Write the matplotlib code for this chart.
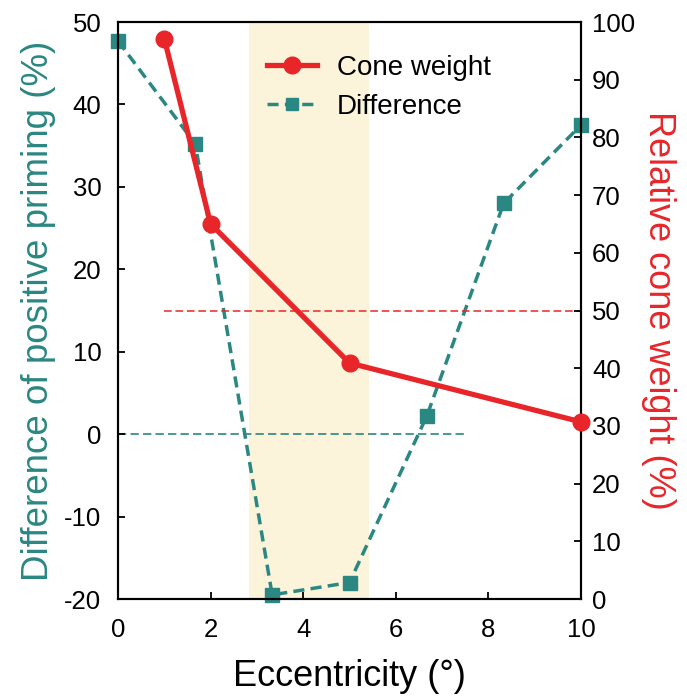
import matplotlib
matplotlib.use("Agg")
import matplotlib.pyplot as plt
from matplotlib.lines import Line2D

plt.rcParams["font.family"] = ["Liberation Sans", "DejaVu Sans"]
plt.rcParams["axes.unicode_minus"] = False

# Difference of positive priming (%) vs eccentricity
diff_x = [0, 1.67, 3.33, 5.0, 6.67, 8.33, 10.0]
diff_y = [47.7, 35.2, -19.5, -18.0, 2.2, 28.0, 37.5]

# Relative cone weight (%) vs eccentricity
cone_x = [1, 2, 5, 10]
cone_y = [97.1, 65.0, 40.9, 30.7]

# Reference levels and highlighted band
zero_x = [0, 7.5]
zero_y = [0, 0]
half_x = [1, 10]
half_y = [50, 50]
band = [2.83, 5.42]

x_ticks = [0, 2, 4, 6, 8, 10]
left_ticks = [-20, -10, 0, 10, 20, 30, 40, 50]
right_ticks = [0, 10, 20, 30, 40, 50, 60, 70, 80, 90, 100]

TEAL = "#2B8782"
RED = "#E8262A"
DIFF_DASH = (0, (3.2, 1.8))
REF_DASH = (0, (5, 2.5))

fig = plt.figure(figsize=(6.87, 6.97), dpi=100)
ax1 = fig.add_axes([0.1718, 0.1406, 0.6739, 0.8278])
ax2 = ax1.twinx()

ax1.axvspan(band[0], band[1], color="#FBF4DA", lw=0, zorder=0)
ax1.plot(zero_x, zero_y, color=TEAL, lw=1.2, ls=REF_DASH, zorder=1)
ax1.plot(diff_x, diff_y, color=TEAL, lw=2.5, ls=DIFF_DASH,
         marker="s", ms=10, mec=TEAL, mfc=TEAL, zorder=2, clip_on=False)

ax2.plot(half_x, half_y, color=RED, lw=1.1, ls=REF_DASH, zorder=1)
ax2.plot(cone_x, cone_y, color=RED, lw=3.8, marker="o", ms=12,
         zorder=3, clip_on=False)

ax1.set_xlim(0, 10)
ax1.set_ylim(-20, 50)
ax2.set_ylim(0, 100)
ax1.set_xticks(x_ticks)
ax1.set_yticks(left_ticks)
ax2.set_yticks(right_ticks)

for ax in (ax1, ax2):
    for s in ax.spines.values():
        s.set_linewidth(1.5)
    ax.tick_params(direction="in", length=5, width=1.3, labelsize=18.5)
ax1.tick_params(axis="x", pad=14)
ax1.tick_params(axis="y", pad=12)
ax2.tick_params(axis="y", pad=8)

ax1.set_xlabel("Eccentricity (°)", fontsize=26, labelpad=12)
ax1.set_ylabel("Difference of positive priming (%)", fontsize=26.5,
               color=TEAL, labelpad=6)
ax2.set_ylabel("Relative cone weight (%)", fontsize=26, color=RED,
               rotation=270, labelpad=29)

handles = [
    Line2D([], [], color=RED, lw=3.8, marker="o", ms=12),
    Line2D([], [], color=TEAL, lw=2.5, ls=DIFF_DASH, marker="s", ms=9),
]
ax2.legend(handles, ["Cone weight", "Difference"], loc="upper left",
           bbox_to_anchor=(0.268, 0.986), frameon=False, fontsize=20,
           handlelength=1.8, handletextpad=0.72, labelspacing=0.47)

fig.savefig("out.png", dpi=100)
